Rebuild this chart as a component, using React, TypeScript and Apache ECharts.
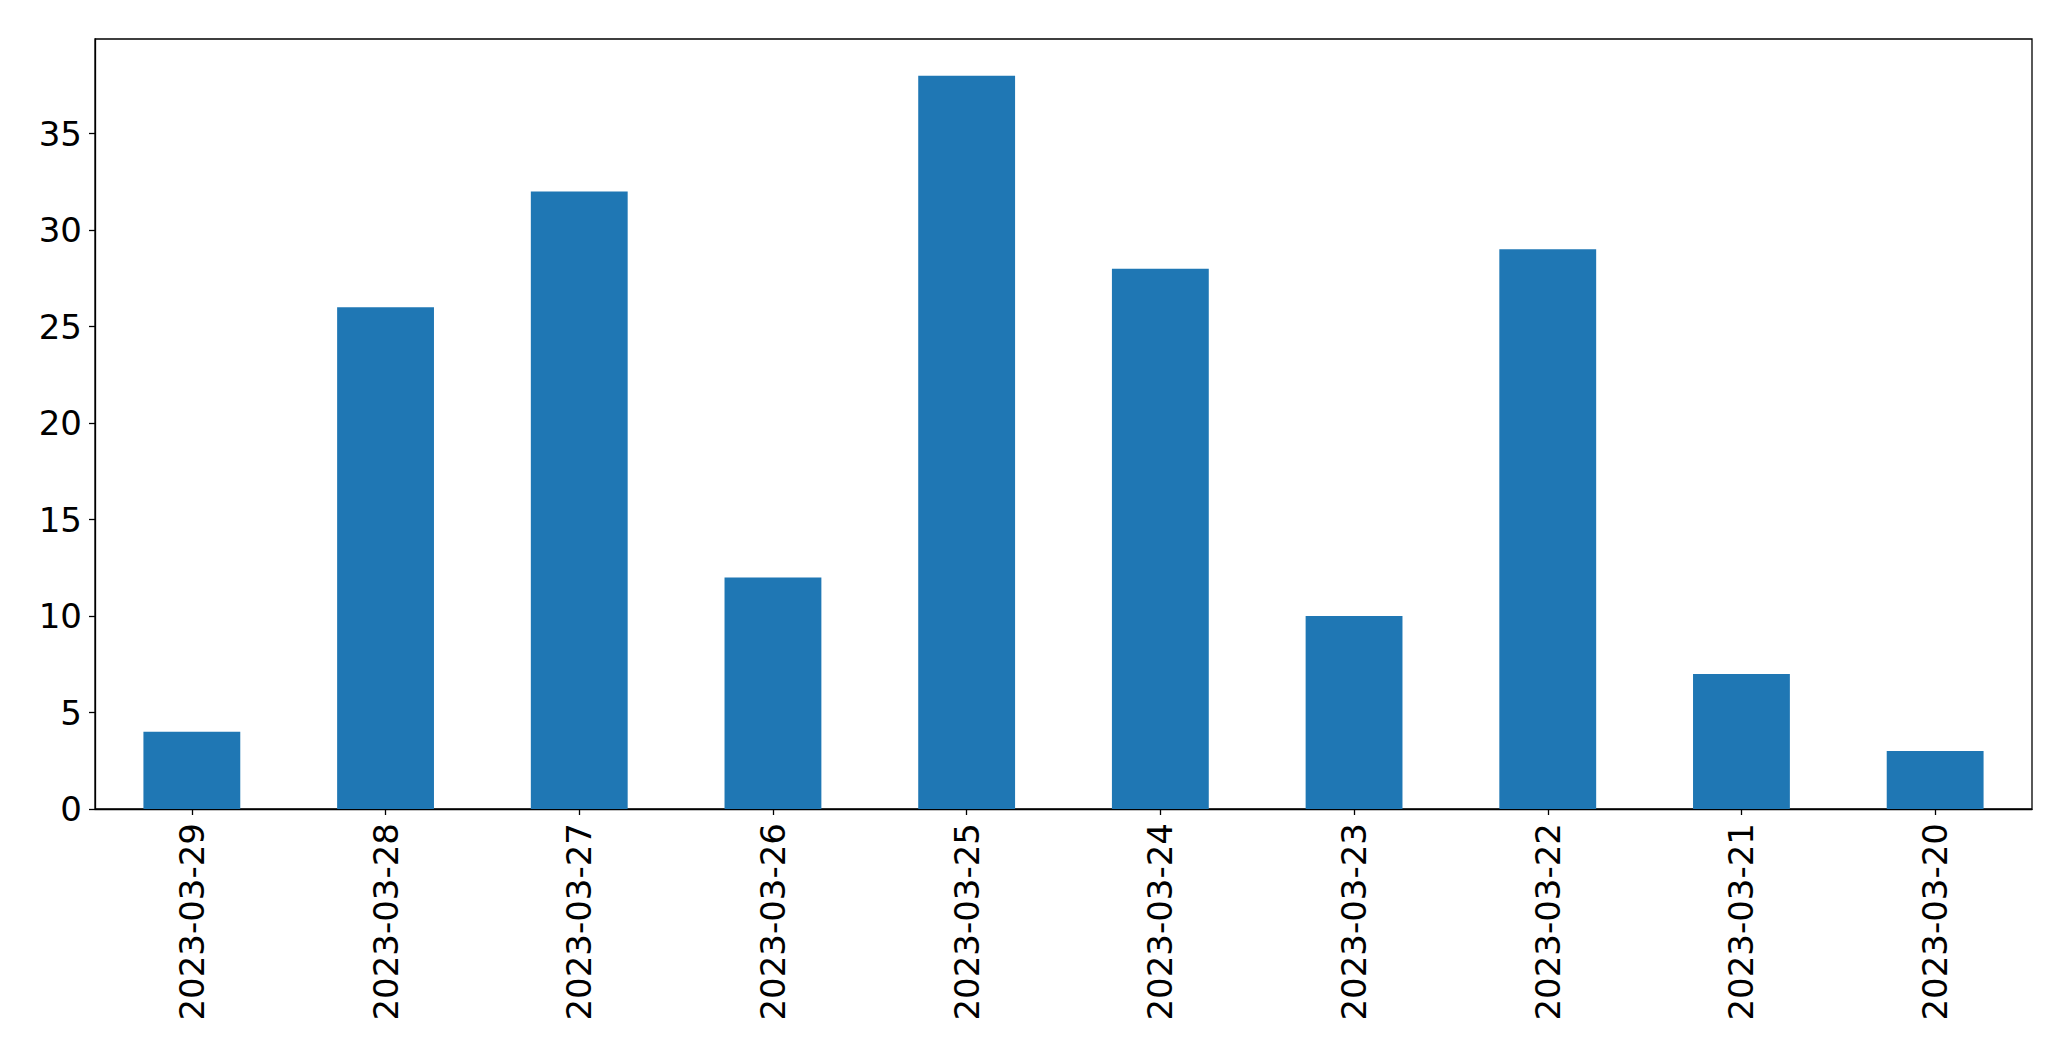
import React, { useEffect, useRef } from "react";
import * as echarts from "echarts";

const categories = [
  "2023-03-29",
  "2023-03-28",
  "2023-03-27",
  "2023-03-26",
  "2023-03-25",
  "2023-03-24",
  "2023-03-23",
  "2023-03-22",
  "2023-03-21",
  "2023-03-20",
];
const values = [4, 26, 32, 12, 38, 28, 10, 29, 7, 3];
const yTicks = [0, 5, 10, 15, 20, 25, 30, 35];
const yMax = 39.9;

export default function App() {
  const ref = useRef<HTMLDivElement>(null);
  useEffect(() => {
    if (!ref.current) return;
    const chart = echarts.init(ref.current, null, { renderer: "svg" });
    const font = "DejaVu Sans";
    chart.setOption({
      animation: false,
      backgroundColor: "#ffffff",
      grid: {
        left: 95,
        top: 39,
        right: 39,
        bottom: 252,
        show: true,
        borderColor: "#000000",
        borderWidth: 1.3,
        backgroundColor: "transparent",
      },
      xAxis: {
        type: "category",
        data: categories,
        axisLine: { show: true, lineStyle: { color: "#000000", width: 1.3 } },
        axisTick: {
          show: true,
          alignWithLabel: true,
          length: 6,
          lineStyle: { color: "#000000", width: 1.3 },
        },
        axisLabel: {
          rotate: 90,
          fontSize: 34,
          fontFamily: font,
          color: "#000000",
          margin: 14,
          interval: 0,
        },
        splitLine: { show: false },
      },
      yAxis: {
        type: "value",
        min: 0,
        max: yMax,
        interval: 5,
        axisLine: { show: true, lineStyle: { color: "#000000", width: 1.3 } },
        axisTick: {
          show: true,
          length: 6,
          customValues: yTicks,
          lineStyle: { color: "#000000", width: 1.3 },
        },
        axisLabel: {
          fontSize: 34,
          fontFamily: font,
          color: "#000000",
          margin: 13,
          customValues: yTicks,
        },
        splitLine: { show: false },
      },
      series: [
        {
          type: "bar",
          data: values,
          barWidth: "50%",
          itemStyle: { color: "#1f77b4" },
        },
      ],
    });
    return () => chart.dispose();
  }, []);
  return (
    <div
      ref={ref}
      style={{ position: "fixed", left: 0, top: 0, width: 2071, height: 1061, background: "#fff" }}
    />
  );
}
